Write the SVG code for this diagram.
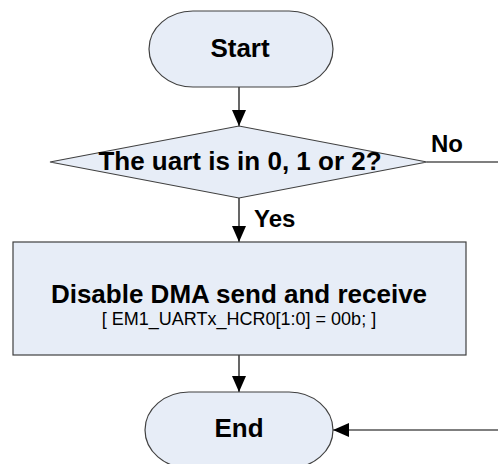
<svg xmlns="http://www.w3.org/2000/svg" width="498" height="464" viewBox="0 0 498 464">
<defs>
<style>
.shape{fill:#E7EDF7;stroke:#404040;stroke-width:1.2}
.line{stroke:#000;stroke-width:1.2;fill:none}
.b{font-family:"Liberation Sans",Arial,sans-serif;font-weight:bold;font-size:26px;fill:#000;text-anchor:middle}
.lbl{font-family:"Liberation Sans",Arial,sans-serif;font-weight:bold;font-size:24px;fill:#000}
.r{font-family:"Liberation Sans",Arial,sans-serif;font-size:18px;fill:#000;text-anchor:middle}
</style>
<marker id="ah" markerWidth="16" markerHeight="14" refX="16" refY="7" orient="auto" markerUnits="userSpaceOnUse">
<path d="M0,0 L16,7 L0,14 Z" fill="#000"/>
</marker>
</defs>
<rect width="498" height="464" fill="#fff"/>
<g id="connectors">
<line class="line" x1="239" y1="87" x2="239" y2="126" marker-end="url(#ah)"/>
<line class="line" x1="239" y1="198" x2="239" y2="242" marker-end="url(#ah)"/>
<line class="line" x1="427" y1="162" x2="498" y2="162"/>
<line class="line" x1="239" y1="355" x2="239" y2="392" marker-end="url(#ah)"/>
<line class="line" x1="498" y1="430" x2="333" y2="430" marker-end="url(#ah)"/>
<text class="lbl" x="431" y="152">No</text>
<text class="lbl" x="254" y="227">Yes</text>
</g>
<g id="start">
<rect class="shape" x="149" y="11" width="184" height="76" rx="44" ry="38"/>
<text class="b" x="240" y="57">Start</text>
</g>
<g id="decision">
<polygon class="shape" points="50,162 239,126 427,162 239,198"/>
<text class="b" x="240" y="170">The uart is in 0, 1 or 2?</text>
</g>
<g id="disable">
<rect class="shape" x="13" y="242" width="453" height="113"/>
<text class="b" x="239" y="303">Disable DMA send and receive</text>
<text class="r" x="239" y="325">[ EM1_UARTx_HCR0[1:0] = 00b; ]</text>
</g>
<g id="end">
<rect class="shape" x="145" y="392" width="188" height="76" rx="44" ry="38"/>
<text class="b" x="239" y="437">End</text>
</g>
</svg>
